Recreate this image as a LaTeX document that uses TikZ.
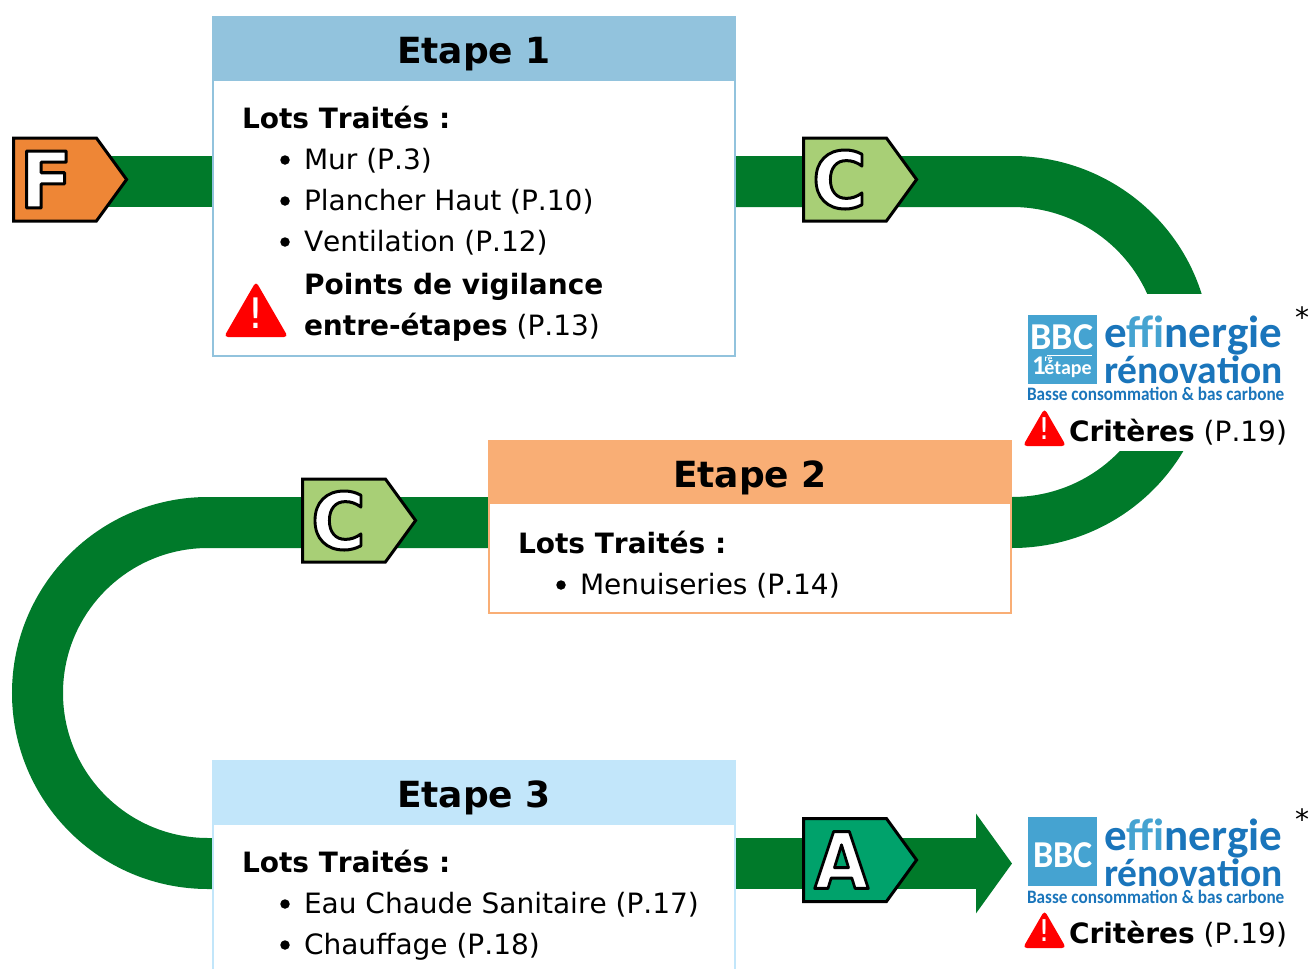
\documentclass[tikz,border=0pt]{standalone}
\usepackage{fontspec}
\usepackage{graphicx}
\setmainfont{DejaVu Sans}[Kerning=Off]
\newfontfamily\logofont{Carlito}
\usetikzlibrary{positioning,arrows.meta,shapes.symbols,shapes.geometric,backgrounds}
\definecolor{trackgreen}{HTML}{007A2A}
\definecolor{orangeF}{HTML}{EE8636}
\definecolor{greenC}{HTML}{A8CF76}
\definecolor{greenA}{HTML}{00A26B}
\definecolor{headone}{HTML}{92C3DD}
\definecolor{headtwo}{HTML}{F9AE75}
\definecolor{headthree}{HTML}{C2E6FA}
\definecolor{logoblue}{HTML}{1A75BB}
\definecolor{logolight}{HTML}{45A3D1}
\newcommand\outl[1]{\makebox[0pt]{\special{pdf:code q 2 Tr 3 w 1 j 0 0 0 RG 1 1 1 rg}\fontsize{78}{78}\selectfont\bfseries #1\special{pdf:code Q}}}
\newcommand\basse{\scalebox{.905}[1]{Basse consommation \& bas carbone}}
\newcommand\bang[2]{\raisebox{#2}[0pt][0pt]{\makebox[0pt]{\fontsize{#1}{#1}\selectfont !}}}
\tikzset{x=1pt,y=1pt,inner sep=0pt,outer sep=0pt,
  head/.style={minimum width=524,minimum height=64,anchor=north west,text=black,text height=30,text depth=0,font=\fontsize{36}{36}\selectfont\bfseries},
  body/.style={draw,line width=2,fill=white,minimum width=522,anchor=north west},
  txt/.style={anchor=base west,font=\fontsize{28}{28}\selectfont},
  dot/.style={circle,fill=black,minimum size=9.5},
  badge/.style={signal,signal to=east,draw=black,line width=3,minimum width=113,minimum height=83,signal pointer angle=108},
  warn/.style={regular polygon,regular polygon sides=3,fill=red,rounded corners=4,text=white},
  track/.style={trackgreen,line width=51},
  logotxt/.style={anchor=base west,text=logoblue,font=\logofont\bfseries}}
\begin{document}
\begin{tikzpicture}
\clip (0,-969) rectangle (1309,0);
% etape 1
\node[head,fill=headone] at (212,-16)(head1){Etape 1};
\node[body,draw=headone,minimum height=276] at (213,-80)(box1){};
\node[txt] at (242,-128)(lots1){\bfseries Lots Traités :};
\node[txt] at (304,-169)(mur){Mur (P.3)};
\node[txt] at (304,-210)(plancher){Plancher Haut (P.10)};
\node[txt] at (304,-251)(venti){Ventilation (P.12)};
\node[txt] at (304,-294)(vigi1){\bfseries Points de vigilance};
\node[txt] at (304,-335)(vigi2){\textbf{entre-étapes} (P.13)};
\foreach \y in {-160,-201,-242} \node[dot] at (285,\y){};
\node[warn,minimum size=74] at (256,-318.5)(warn1){\bang{42}{-10pt}};
% etape 2
\node[head,fill=headtwo] at (488,-440)(head2){Etape 2};
\node[body,draw=headtwo,minimum height=110] at (489,-503)(box2){};
\node[txt] at (518,-553)(lots2){\bfseries Lots Traités :};
\node[txt] at (580,-594)(menu){Menuiseries (P.14)};
\node[dot] at (561,-585){};
% etape 3
\node[head,fill=headthree] at (212,-760)(head3){Etape 3};
\node[body,draw=headthree,minimum height=190] at (213,-824)(box3){};
\node[txt] at (242,-872)(lots3){\bfseries Lots Traités :};
\node[txt] at (304,-913)(eau){Eau Chaude Sanitaire (P.17)};
\node[txt] at (304,-954)(chauf){Chauffage (P.18)};
\foreach \y in {-904,-945} \node[dot] at (285,\y){};
% badges
\node[badge,fill=orangeF] at (55,-179.5)(badgeF){\hspace*{-18pt}\outl{F}};
\node[badge,fill=greenC] at (845,-179.5)(badgeC1){\hspace*{-11pt}\scalebox{.95}[1]{\outl{C}}};
\node[badge,fill=greenC] at (344,-520.5)(badgeC2){\hspace*{-11pt}\scalebox{.95}[1]{\outl{C}}};
\node[badge,fill=greenA] at (845,-860)(badgeA){\hspace*{-7pt}\scalebox{.9}[1]{\outl{A}}};
% logos
\node[fill=white,minimum width=277,minimum height=157,anchor=north west] at (1013,-294)(zone){};
\node[fill=logolight,minimum size=69,anchor=north west] at (1028,-315)(square1){};
\node[anchor=base,text=white,font=\logofont\bfseries\fontsize{38}{38}\selectfont] at (1062,-349)(bbc1){BBC};
\draw[white,line width=1] (1047,-355) -- (1092,-355);
\node[anchor=base west,text=white,font=\logofont\bfseries\fontsize{20}{20}\selectfont] at (1032,-374)(etape1){\fontsize{27}{27}\selectfont 1\raisebox{13pt}{\fontsize{9}{9}\selectfont\hspace{-1pt}re}\hspace{-8pt}\fontsize{20}{20}\selectfont étape};
\node[logotxt,font=\logofont\bfseries\fontsize{45}{45}\selectfont] at (1104,-347)(eff1){e{\color{logolight}ff}{\color{logolight}i}nergie};
\node[logotxt,font=\logofont\bfseries\fontsize{39.5}{39.5}\selectfont] at (1104,-383)(reno1){rénovation};
\node[logotxt,font=\logofont\bfseries\fontsize{19}{19}\selectfont] at (1027,-400)(basse1){\basse};
\node[warn,minimum size=50] at (1044.5,-433.5)(warn2){\bang{30}{-6pt}};
\node[txt] at (1069,-441)(crit1){\textbf{Critères} (P.19)};
\node[txt] at (1295,-327)(star1){*};
\node[fill=logolight,minimum size=69,anchor=north west] at (1028,-817)(square2){};
\node[anchor=center,text=white,font=\logofont\bfseries\fontsize{38}{38}\selectfont] at (1063,-855)(bbc2){\scalebox{.95}[1]{BBC}};
\node[logotxt,font=\logofont\bfseries\fontsize{45}{45}\selectfont] at (1104,-850)(eff2){e{\color{logolight}ff}{\color{logolight}i}nergie};
\node[logotxt,font=\logofont\bfseries\fontsize{39.5}{39.5}\selectfont] at (1104,-886)(reno2){rénovation};
\node[logotxt,font=\logofont\bfseries\fontsize{19}{19}\selectfont] at (1027,-903)(basse2){\basse};
\node[warn,minimum size=50] at (1044.5,-935.5)(warn3){\bang{30}{-6pt}};
\node[txt] at (1069,-943)(crit2){\textbf{Critères} (P.19)};
\node[txt] at (1295,-829)(star2){*};
% track
\coordinate (t1) at (1012,-181.5);
\coordinate (t2) at (208,-522.5);
\begin{scope}[on background layer]
\draw[track] (badgeF.center |- t1) -- (box1.west |- t1);
\draw[track] (box1.east |- t1) -- (t1) arc[start angle=90,end angle=-90,x radius=173,y radius=170.5] -- (box2.east |- t2);
\draw[track] (box2.west |- t2) -- (t2) arc[start angle=90,end angle=270,radius=170.5] -- (box3.west |- 0,-863.5);
\draw[track,-{Triangle[length=36,width=98]}] (box3.east |- 0,-863.5) -- (1012,-863.5);
\end{scope}
\end{tikzpicture}
\end{document}
